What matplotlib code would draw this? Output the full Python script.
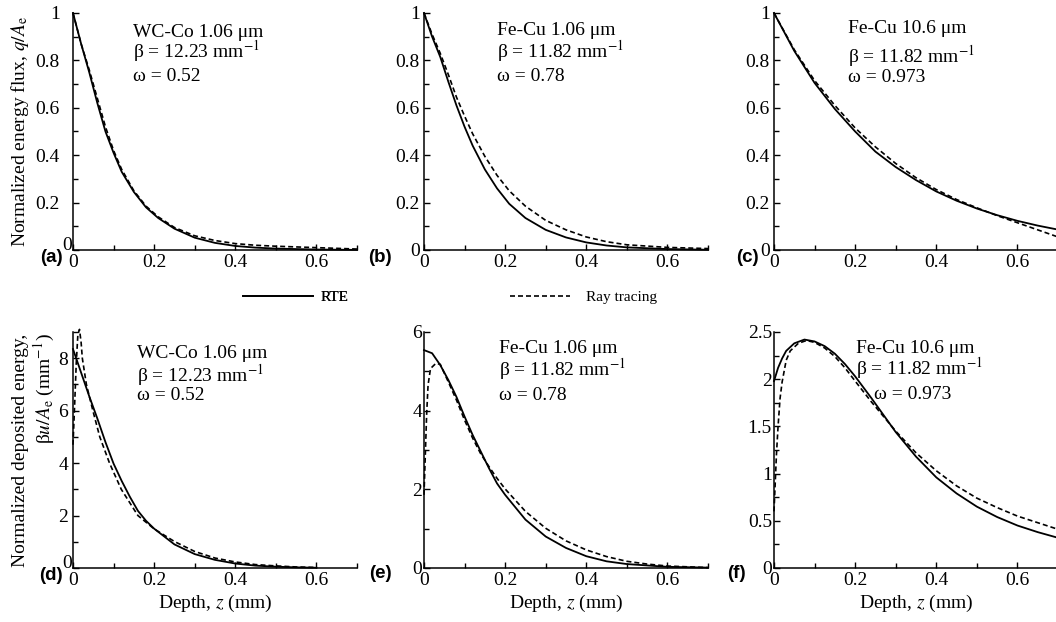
import matplotlib
matplotlib.use("Agg")
import matplotlib.pyplot as plt
from matplotlib.ticker import MultipleLocator, FuncFormatter
from matplotlib.lines import Line2D

plt.rcParams["font.family"] = ["Liberation Serif", "DejaVu Serif"]
plt.rcParams["mathtext.fontset"] = "stix"

# ---- data (depth z in mm) ----
# (a) WC-Co 1.06 um, energy flux
z_a = [0, 0.02, 0.04, 0.06, 0.08, 0.10, 0.12, 0.15, 0.18, 0.21, 0.25, 0.30, 0.35, 0.40, 0.45, 0.50, 0.60, 0.70]
rte_a = [1.0, 0.87, 0.75, 0.62, 0.50, 0.41, 0.33, 0.245, 0.18, 0.135, 0.09, 0.052, 0.03, 0.017, 0.010, 0.006, 0.002, 0.0005]
ray_a = [1.0, 0.87, 0.76, 0.64, 0.52, 0.42, 0.34, 0.25, 0.185, 0.14, 0.095, 0.06, 0.04, 0.027, 0.020, 0.016, 0.010, 0.004]

# (b) Fe-Cu 1.06 um, energy flux
z_b = [0, 0.02, 0.04, 0.06, 0.08, 0.10, 0.12, 0.15, 0.18, 0.21, 0.25, 0.30, 0.35, 0.40, 0.45, 0.50, 0.60, 0.70]
rte_b = [1.0, 0.90, 0.815, 0.71, 0.61, 0.52, 0.44, 0.34, 0.26, 0.195, 0.135, 0.085, 0.053, 0.032, 0.019, 0.011, 0.004, 0.001]
ray_b = [1.0, 0.91, 0.83, 0.74, 0.645, 0.565, 0.49, 0.395, 0.315, 0.25, 0.185, 0.125, 0.085, 0.055, 0.035, 0.022, 0.011, 0.006]

# (c) Fe-Cu 10.6 um, energy flux
z_c = [0, 0.05, 0.10, 0.15, 0.20, 0.25, 0.30, 0.35, 0.40, 0.45, 0.50, 0.55, 0.60, 0.65, 0.70]
rte_c = [1.0, 0.84, 0.705, 0.595, 0.50, 0.415, 0.35, 0.295, 0.247, 0.208, 0.175, 0.147, 0.123, 0.103, 0.086]
ray_c = [1.0, 0.845, 0.715, 0.61, 0.515, 0.435, 0.365, 0.305, 0.255, 0.213, 0.178, 0.145, 0.115, 0.085, 0.055]

# (d) WC-Co 1.06 um, deposited energy
z_d_rte = [0, 0.01, 0.02, 0.03, 0.04, 0.06, 0.08, 0.10, 0.12, 0.14, 0.16, 0.18, 0.20, 0.25, 0.30, 0.35, 0.40, 0.45, 0.50, 0.55, 0.60]
rte_d = [8.35, 7.9, 7.45, 7.0, 6.55, 5.7, 4.8, 3.98, 3.32, 2.72, 2.18, 1.8, 1.5, 0.9, 0.53, 0.31, 0.17, 0.09, 0.05, 0.025, 0.01]
z_d_ray = [0, 0.004, 0.008, 0.012, 0.016, 0.02, 0.023, 0.033, 0.049, 0.066, 0.09, 0.119, 0.16, 0.2, 0.25, 0.3, 0.35, 0.4, 0.45, 0.5, 0.55, 0.6]
ray_d = [4.7, 6.2, 7.8, 8.9, 9.1, 8.6, 8.0, 7.0, 6.0, 5.0, 4.0, 3.0, 2.0, 1.49, 1.01, 0.63, 0.38, 0.23, 0.13, 0.08, 0.04, 0.02]

# (e) Fe-Cu 1.06 um, deposited energy
z_e_rte = [0, 0.02, 0.04, 0.06, 0.08, 0.10, 0.12, 0.14, 0.16, 0.18, 0.20, 0.25, 0.30, 0.35, 0.40, 0.45, 0.50, 0.60, 0.70]
rte_e = [5.54, 5.46, 5.16, 4.78, 4.35, 3.85, 3.38, 2.96, 2.54, 2.15, 1.86, 1.23, 0.80, 0.51, 0.30, 0.17, 0.10, 0.03, 0.01]
z_e_ray = [0, 0.0065, 0.01, 0.016, 0.029, 0.04, 0.06, 0.08, 0.10, 0.12, 0.14, 0.16, 0.18, 0.20, 0.25, 0.30, 0.35, 0.40, 0.45, 0.50, 0.55, 0.60, 0.70]
ray_e = [1.86, 3.9, 4.65, 5.07, 5.2, 5.18, 4.73, 4.27, 3.76, 3.3, 2.9, 2.58, 2.28, 2.01, 1.44, 1.01, 0.69, 0.46, 0.29, 0.17, 0.10, 0.05, 0.01]

# (f) Fe-Cu 10.6 um, deposited energy
z_f_rte = [0, 0.01, 0.02, 0.03, 0.05, 0.075, 0.1, 0.125, 0.15, 0.175, 0.2, 0.24, 0.3, 0.35, 0.4, 0.45, 0.5, 0.55, 0.6, 0.65, 0.7]
rte_f = [1.98, 2.12, 2.22, 2.30, 2.38, 2.42, 2.40, 2.35, 2.27, 2.16, 2.03, 1.80, 1.44, 1.18, 0.96, 0.79, 0.65, 0.54, 0.45, 0.38, 0.32]
z_f_ray = [0, 0.003, 0.006, 0.01, 0.015, 0.02, 0.03, 0.04, 0.06, 0.08, 0.1, 0.125, 0.15, 0.175, 0.2, 0.24, 0.3, 0.35, 0.4, 0.45, 0.5, 0.55, 0.6, 0.65, 0.7]
ray_f = [0.6, 0.9, 1.2, 1.5, 1.8, 1.97, 2.2, 2.3, 2.38, 2.41, 2.39, 2.33, 2.24, 2.12, 1.98, 1.76, 1.45, 1.22, 1.03, 0.87, 0.74, 0.64, 0.55, 0.48, 0.41]

materials = ["WC-Co 1.06 \u03bcm", "Fe-Cu 1.06 \u03bcm", "Fe-Cu 10.6 \u03bcm"]
betas = ["12.23", "11.82", "11.82"]
omegas = ["0.52", "0.78", "0.973"]
letters = ["(a)", "(b)", "(c)", "(d)", "(e)", "(f)"]
ymax = [1, 1, 1, 9, 6, 2.5]
ystep = [0.2, 0.2, 0.2, 2, 2, 0.5]

W, H = 1056, 622
fig = plt.figure(figsize=(W / 100, H / 100), dpi=100)

lefts = [73, 424, 774]
rows = [(13, 250), (332, 568)]   # (top px, bottom px)
AX_W = 284
ypad = [9.5, 3.0, 3.0, 3.5, 1.2, 1.5]
# panels whose origin "0" sits tucked against the spine, raised a little
zero_nudge = {0: (72, 246), 3: (72, 564)}

# annotation placement: (x frac per line, baseline y frac per line)
note_x = [[0.21] * 3, [0.257] * 3, [0.26] * 3, [0.225] * 3, [0.264] * 3, [0.289, 0.29, 0.352]]
note_y = [[0.899, 0.81, 0.713], [0.907, 0.814, 0.713], [0.916, 0.793, 0.709],
          [0.89, 0.788, 0.712], [0.913, 0.815, 0.712], [0.911, 0.818, 0.716]]
letter_px = [(51, 257), (380, 257), (747, 257), (51, 575), (380, 573), (736, 574)]

series = [
    (z_a, rte_a, z_a, ray_a),
    (z_b, rte_b, z_b, ray_b),
    (z_c, rte_c, z_c, ray_c),
    (z_d_rte, rte_d, z_d_ray, ray_d),
    (z_e_rte, rte_e, z_e_ray, ray_e),
    (z_f_rte, rte_f, z_f_ray, ray_f),
]

DASH = (0, (3.0, 1.8))
fmt = FuncFormatter(lambda v, _: f"{v:g}")
fmt_nozero = FuncFormatter(lambda v, _: "" if abs(v) < 1e-9 else f"{v:g}")

for i, (zr, yr, zt, yt) in enumerate(series):
    r, c = divmod(i, 3)
    top, bot = rows[r]
    ax = fig.add_axes([lefts[c] / W, 1 - bot / H, AX_W / W, (bot - top) / H])
    ax.plot(zr, yr, color="black", lw=1.3, clip_on=False)
    ax.plot(zt, yt, color="black", lw=1.2, ls=DASH, clip_on=False)
    ax.set_xlim(0, 0.7)
    ax.set_ylim(0, ymax[i])
    ax.xaxis.set_major_locator(MultipleLocator(0.2))
    ax.xaxis.set_minor_locator(MultipleLocator(0.1))
    ax.yaxis.set_major_locator(MultipleLocator(ystep[i]))
    ax.yaxis.set_minor_locator(MultipleLocator(ystep[i] / 2))
    ax.xaxis.set_major_formatter(fmt)
    ax.yaxis.set_major_formatter(fmt_nozero if i in zero_nudge else fmt)
    for s in ("top", "right"):
        ax.spines[s].set_visible(False)
    for s in ("left", "bottom"):
        ax.spines[s].set_linewidth(1.1)
    ax.tick_params(which="both", direction="in", width=1.0, labelsize=14)
    ax.tick_params(which="major", length=4.5)
    ax.tick_params(which="minor", length=3.5)
    ax.tick_params(axis="x", pad=3)
    ax.tick_params(axis="y", pad=ypad[i])
    if i in zero_nudge:
        zx, zy = zero_nudge[i]
        fig.text(zx / W, 1 - zy / H, "0", fontsize=14, ha="right", va="center")

    k = i % 3
    lines = [materials[k], "\u03b2 = " + betas[k] + " mm$^{-1}$", "\u03c9 = " + omegas[k]]
    for txt, xf, yf in zip(lines, note_x[i], note_y[i]):
        ax.text(xf, yf, txt, transform=ax.transAxes, fontsize=14, va="baseline", ha="left")

    if r == 1:
        ax.set_xlabel("Depth, $z$ (mm)", fontsize=14, labelpad=3)

    lx, ly = letter_px[i]
    fig.text(lx / W, 1 - ly / H, letters[i], family="Liberation Sans", weight="bold",
             fontsize=13.5, ha="center", va="center")

    if i == 0:
        ax.text(-0.187, 0.5, "Normalized energy flux, $q/A_{\\rm e}$", transform=ax.transAxes,
                rotation=90, fontsize=14, ha="center", va="center")
    if i == 3:
        ax.text(-0.137, 0.5, "Normalized deposited energy,\n\u03b2$u/A_{\\rm e}$ (mm$^{-1}$)",
                transform=ax.transAxes, rotation=90, fontsize=14, ha="center", va="center",
                multialignment="right", linespacing=1.15)

# legend strip between the rows
leg1 = fig.legend(handles=[Line2D([], [], color="black", lw=1.3)], labels=["RTE"],
                  loc="center left", bbox_to_anchor=(243 / W, 1 - 297 / H), frameon=False,
                  fontsize=11, handlelength=4.6, handletextpad=0.5, borderpad=0, borderaxespad=0)
fig.add_artist(leg1)
fig.legend(handles=[Line2D([], [], color="black", lw=1.2, ls=DASH)], labels=["Ray tracing"],
           loc="center left", bbox_to_anchor=(510 / W, 1 - 297 / H), frameon=False,
           fontsize=11, handlelength=3.9, handletextpad=1.1, borderpad=0, borderaxespad=0)

fig.savefig("out.png", dpi=100)
